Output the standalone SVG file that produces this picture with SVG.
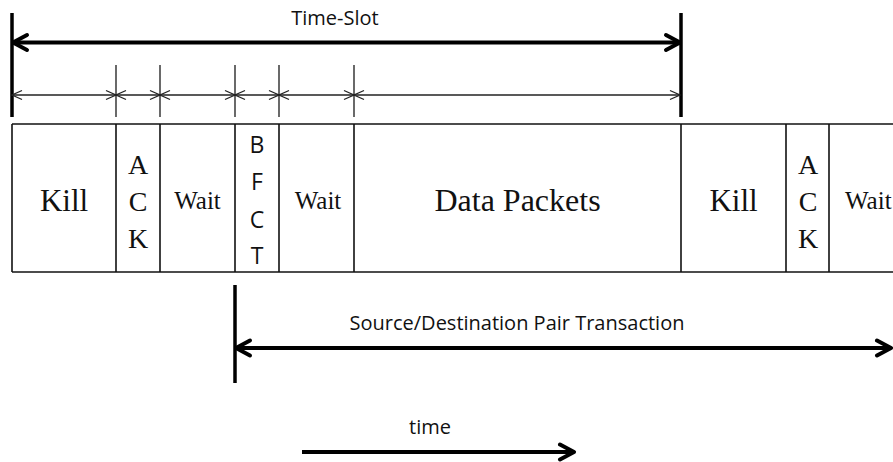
<svg xmlns="http://www.w3.org/2000/svg" width="893" height="462" viewBox="0 0 893 462">
  <defs>
    <style>
      .bold { stroke: #000; stroke-width: 4; fill: none; }
      .bar { stroke: #000; stroke-width: 3.5; fill: none; }
      .tick { stroke: #1a1a1a; stroke-width: 1.3; fill: none; }
      .thin { stroke: #222; stroke-width: 1.3; fill: none; }
      .cell { stroke: #111; stroke-width: 1.6; fill: none; }
      .serif { font-family: "Liberation Serif", "Times New Roman", serif; fill: #111; text-anchor: middle; }
      .sans { font-family: "Open Sans", "Noto Sans", sans-serif; font-size: 20px; fill: #111; text-anchor: middle; }
      .letter { font-family: "Open Sans", "Noto Sans", sans-serif; font-size: 23px; fill: #111; text-anchor: middle; }
    </style>
    <marker id="bigHead" markerUnits="userSpaceOnUse" viewBox="-20 -12 24 24" markerWidth="24" markerHeight="24" refX="0" refY="0" orient="auto-start-reverse" overflow="visible">
      <path d="M -14 -7.5 L 0 0 L -14 7.5" fill="none" stroke="#000" stroke-width="4" stroke-linecap="round" stroke-linejoin="round"/>
    </marker>
    <marker id="smallHead" markerUnits="userSpaceOnUse" viewBox="-14 -8 16 16" markerWidth="16" markerHeight="16" refX="0" refY="0" orient="auto-start-reverse" overflow="visible">
      <path d="M -10 -4.5 L 0 0 L -10 4.5" fill="none" stroke="#222" stroke-width="1.3"/>
    </marker>
  </defs>

  <!-- Time-slot span -->
  <g id="timeslot">
    <line class="bar" x1="12" y1="13" x2="12" y2="117"/>
    <line class="bar" x1="681" y1="13" x2="681" y2="117"/>
    <text class="sans" x="335" y="25">Time-Slot</text>
  </g>

  <!-- Field boundaries above the frame -->
  <g id="ticks">
    <line class="tick" x1="116" y1="65" x2="116" y2="117"/>
    <line class="tick" x1="160" y1="65" x2="160" y2="117"/>
    <line class="tick" x1="235" y1="65" x2="235" y2="117"/>
    <line class="tick" x1="279" y1="65" x2="279" y2="117"/>
    <line class="tick" x1="354" y1="65" x2="354" y2="117"/>
  </g>

  <!-- Frame cells -->
  <g id="frame">
    <line class="cell" x1="12" y1="124" x2="893" y2="124"/>
    <line class="cell" x1="12" y1="272" x2="893" y2="272"/>
    <line class="cell" x1="12" y1="124" x2="12" y2="272"/>
    <line class="cell" x1="116" y1="124" x2="116" y2="272"/>
    <line class="cell" x1="160" y1="124" x2="160" y2="272"/>
    <line class="cell" x1="235" y1="124" x2="235" y2="272"/>
    <line class="cell" x1="279" y1="124" x2="279" y2="272"/>
    <line class="cell" x1="354" y1="124" x2="354" y2="272"/>
    <line class="cell" x1="681" y1="124" x2="681" y2="272"/>
    <line class="cell" x1="786" y1="124" x2="786" y2="272"/>
    <line class="cell" x1="829" y1="124" x2="829" y2="272"/>
  </g>

  <g id="kill1"><text class="serif" x="64" y="211" font-size="31">Kill</text></g>
  <g id="ack1">
    <text class="serif" x="138" y="174" font-size="28">A</text>
    <text class="serif" x="138" y="211" font-size="28">C</text>
    <text class="serif" x="138" y="248" font-size="28">K</text>
  </g>
  <g id="wait1"><text class="serif" x="197.5" y="209" font-size="25">Wait</text></g>
  <g id="bfct">
    <text class="letter" x="257" y="153">B</text>
    <text class="letter" x="257" y="190">F</text>
    <text class="letter" x="257" y="228">C</text>
    <text class="letter" x="257" y="264">T</text>
  </g>
  <g id="wait2"><text class="serif" x="318" y="209" font-size="25">Wait</text></g>
  <g id="data"><text class="serif" x="517.5" y="211" font-size="32">Data Packets</text></g>
  <g id="kill2"><text class="serif" x="733.5" y="211" font-size="31">Kill</text></g>
  <g id="ack2">
    <text class="serif" x="808" y="174" font-size="28">A</text>
    <text class="serif" x="808" y="211" font-size="28">C</text>
    <text class="serif" x="808" y="248" font-size="28">K</text>
  </g>
  <g id="wait3"><text class="serif" x="845" y="209" font-size="25" style="text-anchor:start">Wait</text></g>

  <!-- Source/destination pair transaction span -->
  <g id="transaction">
    <line class="bar" x1="235" y1="285" x2="235" y2="383"/>
    <text class="sans" x="517" y="330">Source/Destination Pair Transaction</text>
  </g>

  <g id="timeLabel"><text class="sans" x="430" y="434">time</text></g>

  <!-- Connectors -->
  <g id="connectors">
    <line class="bold" x1="13" y1="42.5" x2="680" y2="42.5" marker-start="url(#bigHead)" marker-end="url(#bigHead)"/>
    <line class="thin" x1="12" y1="95" x2="116" y2="95" marker-start="url(#smallHead)" marker-end="url(#smallHead)"/>
    <line class="thin" x1="116" y1="95" x2="160" y2="95" marker-start="url(#smallHead)" marker-end="url(#smallHead)"/>
    <line class="thin" x1="160" y1="95" x2="235" y2="95" marker-start="url(#smallHead)" marker-end="url(#smallHead)"/>
    <line class="thin" x1="235" y1="95" x2="279" y2="95" marker-start="url(#smallHead)" marker-end="url(#smallHead)"/>
    <line class="thin" x1="279" y1="95" x2="354" y2="95" marker-start="url(#smallHead)" marker-end="url(#smallHead)"/>
    <line class="thin" x1="354" y1="95" x2="680" y2="95" marker-start="url(#smallHead)" marker-end="url(#smallHead)"/>
    <line class="bold" x1="236" y1="348" x2="891" y2="348" marker-start="url(#bigHead)" marker-end="url(#bigHead)"/>
    <line class="bold" x1="302" y1="452" x2="574" y2="452" marker-end="url(#bigHead)"/>
  </g>
</svg>
